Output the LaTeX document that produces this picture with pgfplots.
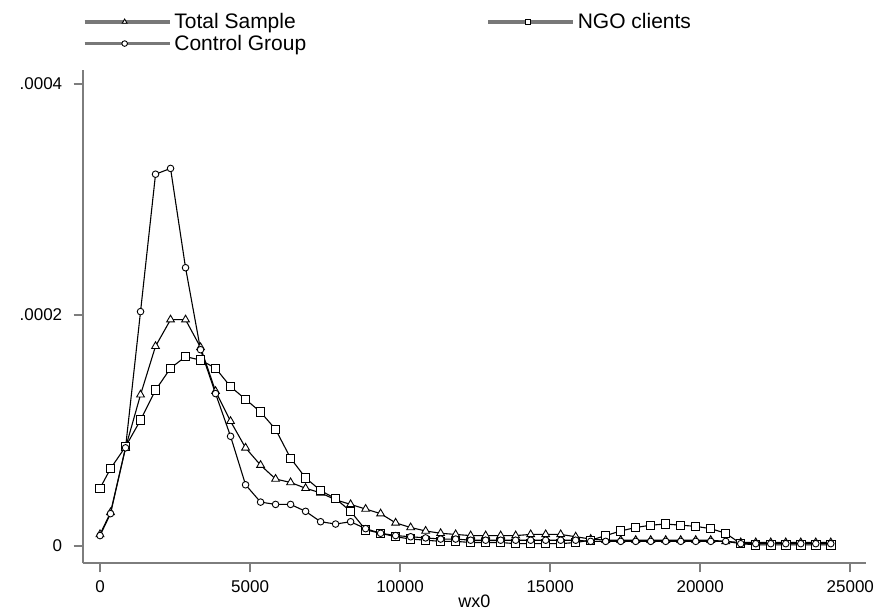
\documentclass[border=0pt]{standalone}
\usepackage{fontspec}
\setmainfont{Liberation Sans}
\usepackage{pgfplots}
\pgfplotsset{compat=1.18}
\usepackage{pgfplotstable}
\definecolor{axgray}{RGB}{125,125,125}
\definecolor{leggray}{RGB}{120,120,120}

% kernel density estimates, y in units of 1e-4
\pgfplotstableread{
x      total  ngo   control
0      0.10   0.50  0.09
350    0.29   0.67  0.28
850    0.85   0.86  0.85
1350   1.31   1.09  2.03
1850   1.73   1.35  3.22
2350   1.96   1.54  3.27
2850   1.96   1.64  2.41
3350   1.72   1.61  1.70
3850   1.34   1.54  1.32
4350   1.08   1.38  0.95
4850   0.85   1.27  0.53
5350   0.70   1.16  0.38
5850   0.58   1.01  0.36
6350   0.55   0.76  0.36
6850   0.50   0.59  0.30
7350   0.46   0.48  0.21
7850   0.40   0.41  0.19
8350   0.36   0.30  0.21
8850   0.32   0.14  0.15
9350   0.28   0.11  0.11
9850   0.20   0.08  0.09
10350  0.16   0.06  0.08
10850  0.13   0.05  0.07
11350  0.11   0.04  0.06
11850  0.10   0.04  0.06
12350  0.09   0.03  0.05
12850  0.09   0.03  0.05
13350  0.09   0.03  0.05
13850  0.09   0.02  0.05
14350  0.10   0.02  0.05
14850  0.10   0.02  0.05
15350  0.10   0.02  0.05
15850  0.08   0.03  0.05
16350  0.06   0.05  0.04
16850  0.05   0.09  0.04
17350  0.05   0.13  0.04
17850  0.05   0.16  0.04
18350  0.05   0.18  0.04
18850  0.05   0.19  0.04
19350  0.05   0.18  0.04
19850  0.05   0.17  0.04
20350  0.05   0.15  0.04
20850  0.04   0.11  0.04
21350  0.03   0.02  0.02
21850  0.03   0.01  0.02
22350  0.03   0.01  0.02
22850  0.03   0.01  0.02
23350  0.03   0.01  0.02
23850  0.03   0.01  0.02
24350  0.03   0.01  0.02
}\dens

\begin{document}
\begin{tikzpicture}
\useasboundingbox (-82.7pt,-48.7pt) rectangle (791.3pt,563.3pt);
\begin{axis}[
    scale only axis,
    width=783pt, height=493pt,
    xmin=-577, xmax=25523,
    ymin=-0.15, ymax=4.12,
    axis x line*=bottom, axis y line*=left,
    axis line style={axgray, line width=2pt},
    tick style={axgray, line width=2pt},
    tick align=outside,
    major tick length=9pt,
    scaled x ticks=false, scaled y ticks=false,
    xtick={0,5000,10000,15000,20000,25000},
    xticklabels={0,5000,10000,15000,20000,25000},
    ytick={0,2,4},
    yticklabels={0,.0002,.0004},
    tick label style={font=\fontsize{17}{21}\selectfont, black},
    xticklabel style={yshift=-5pt},
    yticklabel style={xshift=-8pt},
    xlabel={wx0},
    xlabel style={font=\fontsize{18}{20}\selectfont, yshift=5pt},
    legend columns=2,
    legend cell align=left,
    legend style={at={(0,1)}, anchor=north west, yshift=57pt,
        draw=none, fill=none, inner sep=0pt,
        font=\fontsize{21}{25}\selectfont,
        nodes={inner sep=0pt},
        /tikz/every odd column/.append style={column sep=3pt},
        /tikz/every even column/.append style={column sep=180pt},
        row sep=5pt},
    legend image code/.code={
        \draw[leggray, line width=3.5pt] (0pt,0pt) -- (85pt,0pt);
        \draw[#1, mark size=2.8pt] plot[only marks] coordinates {(40pt,0pt)};
    },
]
\addplot[black, line width=1.1pt, mark=triangle*, mark size=4.5pt,
    mark options={solid, fill=white, draw=black, line width=0.9pt}]
    table[x=x, y=total] {\dens};
\addlegendentry{Total Sample}
\addplot[black, line width=1.1pt, mark=square*, mark size=4.2pt,
    mark options={solid, fill=white, draw=black, line width=0.9pt}]
    table[x=x, y=ngo] {\dens};
\addlegendentry{NGO clients}
\addplot[black, line width=1.1pt, mark=*, mark size=3.3pt,
    mark options={solid, fill=white, draw=black, line width=0.9pt}]
    table[x=x, y=control] {\dens};
\addlegendentry{Control Group}
\end{axis}
\end{tikzpicture}
\end{document}
